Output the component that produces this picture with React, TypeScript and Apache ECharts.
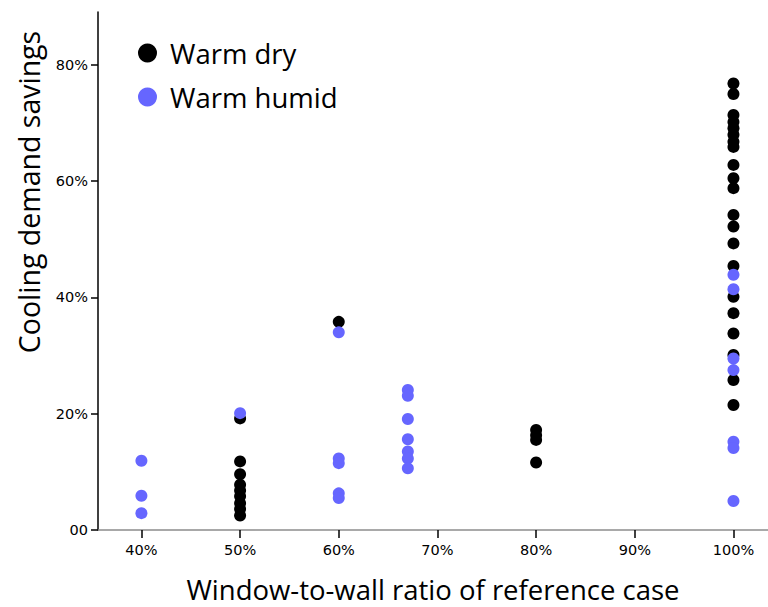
import React, { useEffect, useRef } from "react";
import * as echarts from "echarts";

const seriesNames = ["Warm dry", "Warm humid"];
const xTicks = [40, 50, 60, 70, 80, 90, 100];
const yTicks = [0, 20, 40, 60, 80];

// Warm dry values (cooling demand savings, %) per window-to-wall ratio (%)
const dry50 = [19.2, 11.8, 9.6, 7.8, 6.8, 5.8, 4.6, 3.6, 2.5];
const dry60 = [35.8];
const dry80 = [17.2, 16.3, 15.5, 11.6];
const dry100 = [
  76.8, 75.0, 71.4, 70.2, 69.1, 68.0, 66.8, 65.9, 62.8, 60.5, 58.8, 54.2, 52.2,
  49.3, 45.4, 40.1, 37.3, 33.8, 30.1, 25.8, 21.5,
];

// Warm humid values
const hum40 = [11.9, 5.9, 2.9];
const hum50 = [20.1];
const hum60 = [34.0, 12.3, 11.5, 6.3, 5.5];
const hum67 = [24.1, 23.1, 19.1, 15.6, 13.5, 12.3, 10.6];
const hum100 = [43.9, 41.4, 29.5, 27.5, 15.2, 14.1, 5.0];

const pairs = (x: number, ys: number[]) => ys.map((y) => [x, y]);

const dryData = [
  ...pairs(50, dry50),
  ...pairs(60, dry60),
  ...pairs(80, dry80),
  ...pairs(100, dry100),
];
const humData = [
  ...pairs(40, hum40),
  ...pairs(50, hum50),
  ...pairs(60, hum60),
  ...pairs(67, hum67),
  ...pairs(100, hum100),
];

export default function App() {
  const ref = useRef<HTMLDivElement>(null);
  useEffect(() => {
    if (!ref.current) return;
    const chart = echarts.init(ref.current, null, { renderer: "svg" });
    const labelFont = "DejaVu Sans";
    const titleFont = "Open Sans";
    chart.setOption({
      animation: false,
      backgroundColor: "#ffffff",
      grid: {
        left: 98,
        top: 12,
        right: 0,
        bottom: 77,
        containLabel: false,
        outerBoundsMode: "none",
      },
      legend: {
        orient: "vertical",
        left: 133,
        top: 33,
        icon: "circle",
        itemWidth: 19,
        itemHeight: 19,
        itemGap: 14,
        data: seriesNames,
        textStyle: {
          fontFamily: titleFont,
          fontSize: 27.5,
          color: "#000",
          lineHeight: 30,
          padding: [0, 0, 0, 8],
        },
      },
      xAxis: {
        type: "value",
        min: 35.6,
        max: 103.5,
        name: "Window-to-wall ratio of reference case",
        nameLocation: "middle",
        nameGap: 45,
        nameTextStyle: {
          fontFamily: titleFont,
          fontSize: 27.5,
          lineHeight: 28,
          color: "#000",
        },
        axisLine: { show: true, lineStyle: { color: "#8c8c8c", width: 1.5 } },
        axisTick: {
          show: true,
          customValues: xTicks,
          length: 8,
          lineStyle: { color: "#000", width: 1.5 },
        },
        axisLabel: {
          customValues: xTicks,
          formatter: (v: number) => `${v}%`,
          fontFamily: labelFont,
          fontSize: 14.5,
          color: "#000",
          margin: 12,
        },
        splitLine: { show: false },
      },
      yAxis: {
        type: "value",
        min: 0,
        max: 89.1,
        axisLine: { show: true, lineStyle: { color: "#000", width: 1.5 } },
        axisTick: {
          show: true,
          customValues: yTicks,
          length: 7,
          lineStyle: { color: "#000", width: 1.5 },
        },
        axisLabel: {
          customValues: yTicks,
          formatter: (v: number) => (v === 0 ? "00" : `${v}%`),
          fontFamily: labelFont,
          fontSize: 14.5,
          color: "#000",
          margin: 10,
        },
        splitLine: { show: false },
      },
      graphic: [
        {
          type: "text",
          x: 29,
          y: 192,
          rotation: Math.PI / 2,
          style: {
            text: "Cooling demand savings",
            fontFamily: titleFont,
            fontSize: 28.5,
            fill: "#000",
            align: "center",
            verticalAlign: "middle",
          },
        },
      ],
      series: [
        {
          name: seriesNames[0],
          type: "scatter",
          symbol: "circle",
          symbolSize: 12,
          itemStyle: { color: "#000000", opacity: 1 },
          data: dryData,
        },
        {
          name: seriesNames[1],
          type: "scatter",
          symbol: "circle",
          symbolSize: 12,
          itemStyle: { color: "#6666ff", opacity: 1 },
          data: humData,
        },
      ],
    });
    return () => chart.dispose();
  }, []);
  return (
    <div
      ref={ref}
      style={{ position: "absolute", left: 0, top: 0, width: 768, height: 607 }}
    />
  );
}
